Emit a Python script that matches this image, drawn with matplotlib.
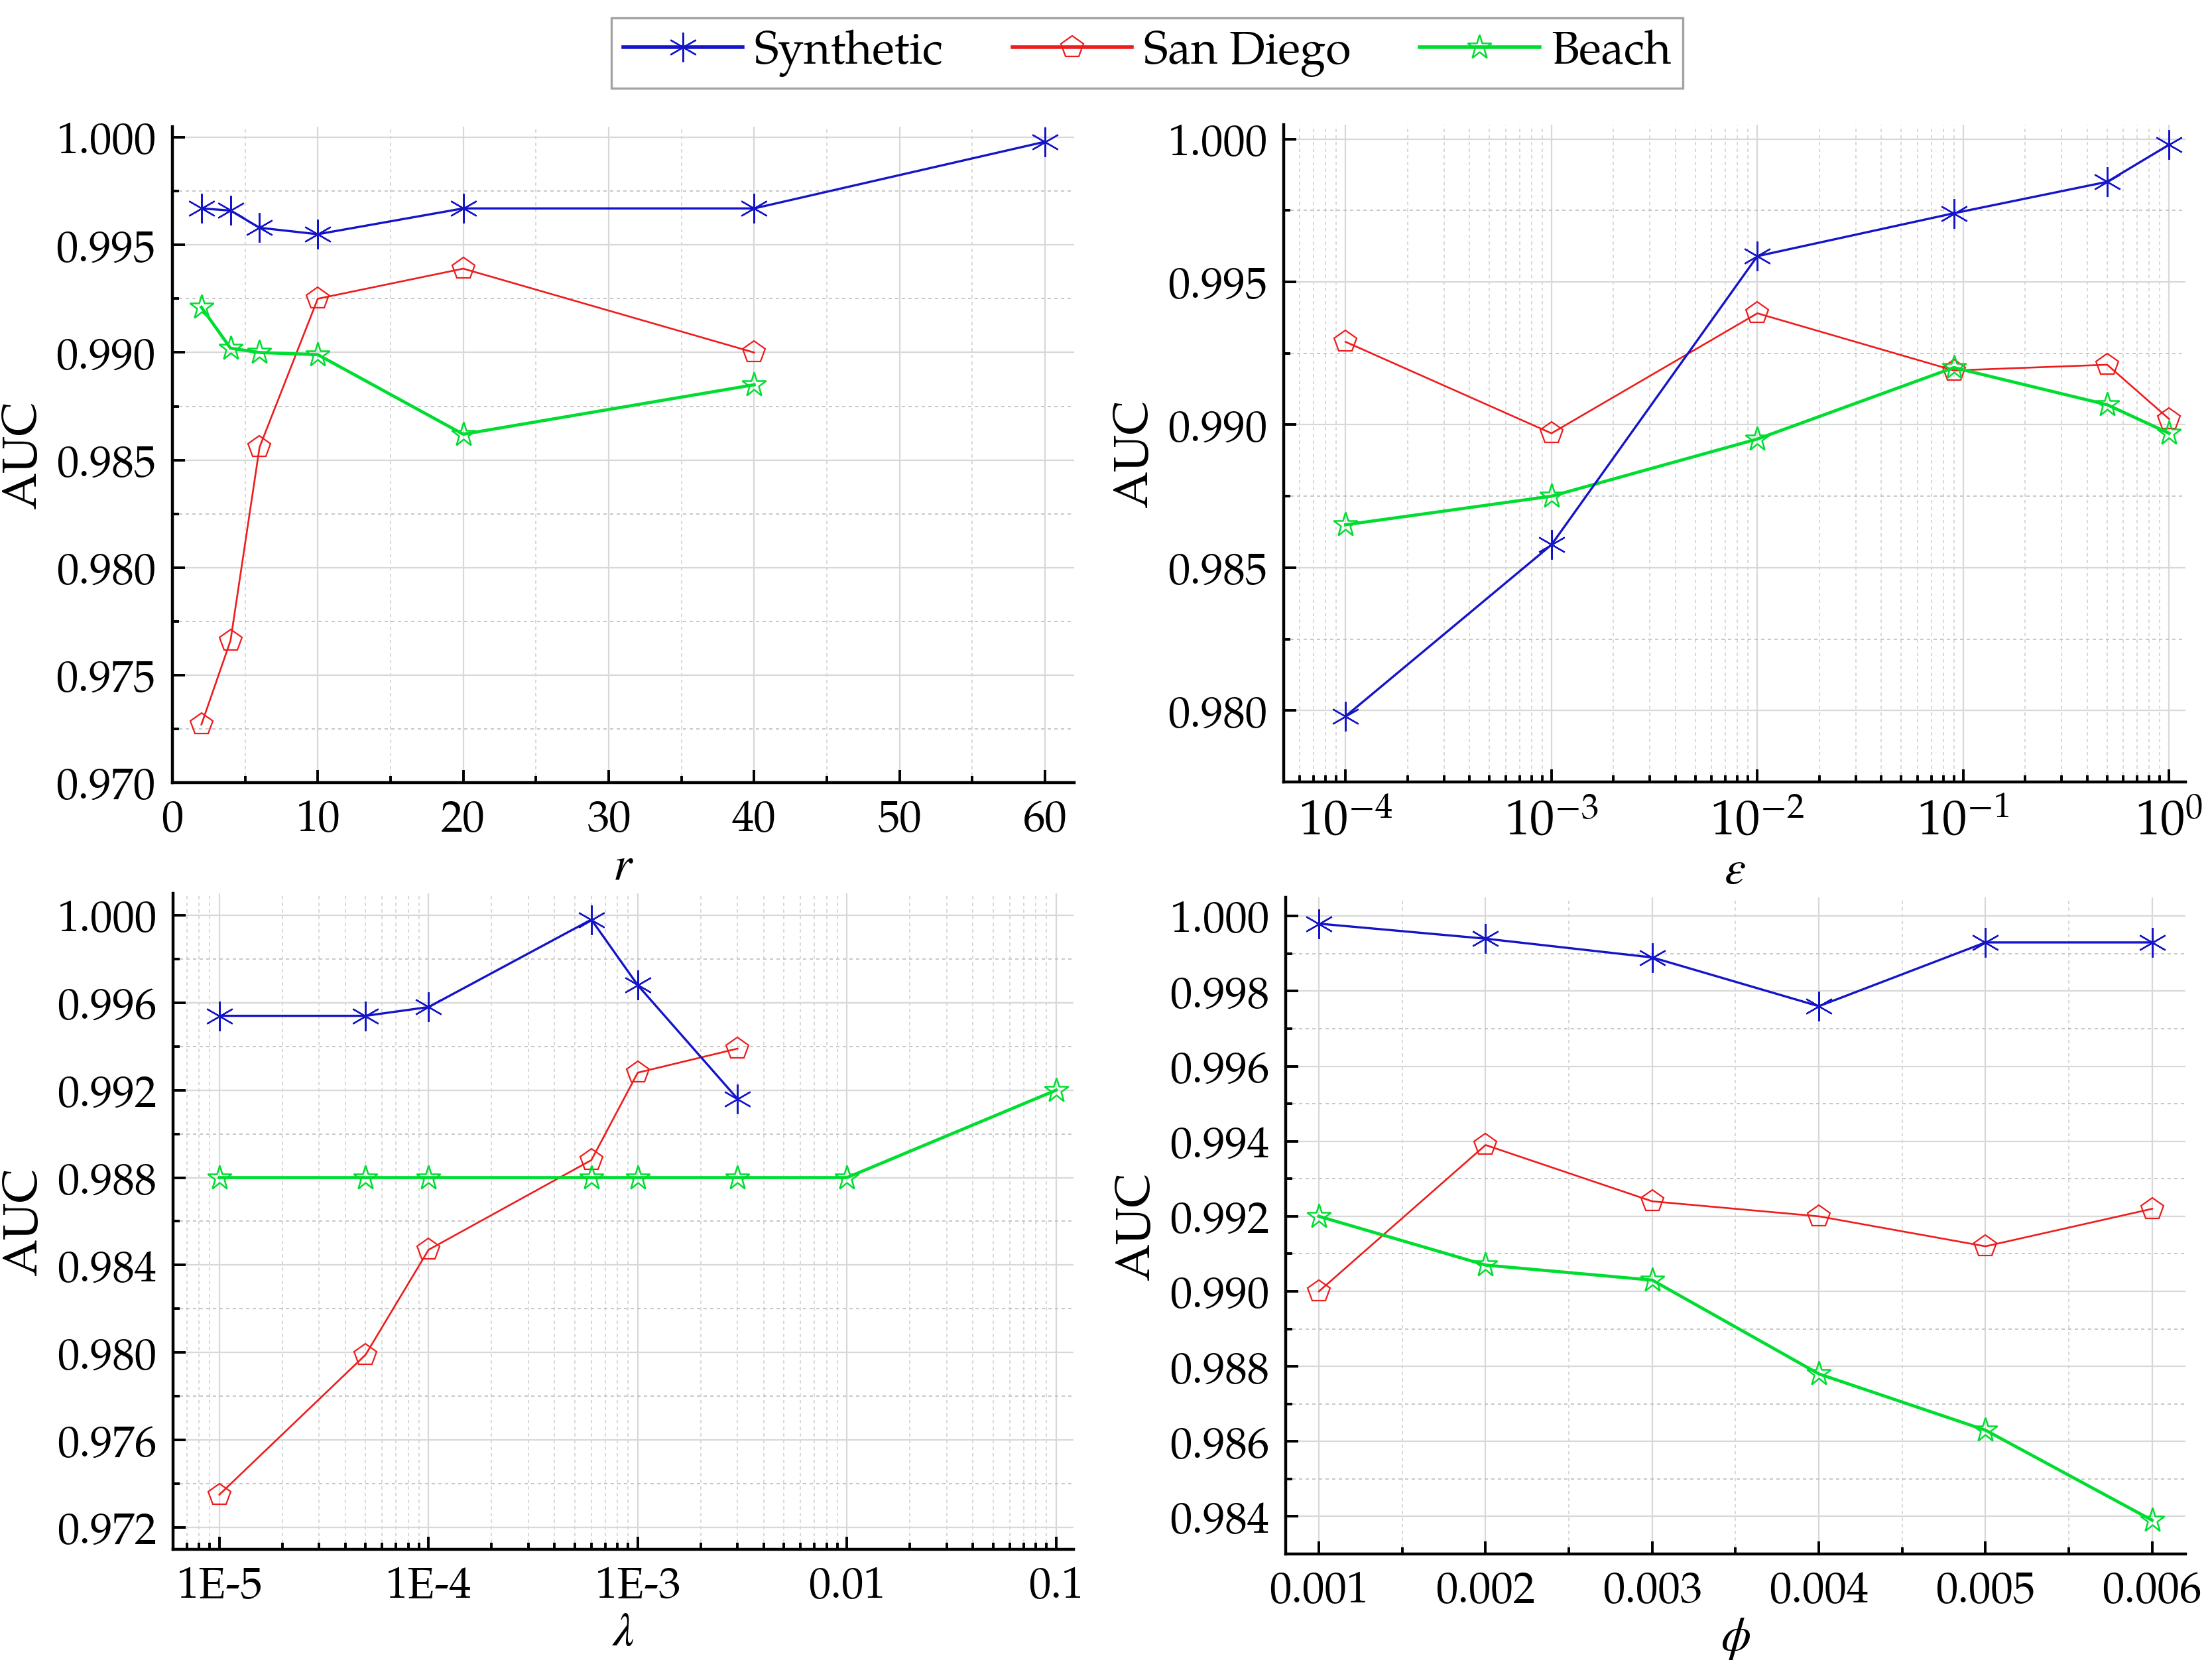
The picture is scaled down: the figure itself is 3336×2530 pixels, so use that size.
import numpy as np
import matplotlib
matplotlib.use("Agg")
import matplotlib.pyplot as plt
from matplotlib.ticker import MultipleLocator, FixedLocator, FixedFormatter, LogLocator, NullFormatter, FormatStrFormatter

# Palatino-like faces first, Liberation Serif as the fallback
plt.rcParams['font.family'] = ['TeX Gyre Pagella', 'P052', 'Palatino Linotype', 'URW Palladio L',
                               'Domitian', 'Liberation Serif', 'DejaVu Serif']
plt.rcParams['mathtext.fontset'] = 'stix'

# ---- data ----
series = ["Synthetic", "San Diego", "Beach"]

r_vals = [2, 4, 6, 10, 20, 40, 60]
r_syn = [0.9967, 0.9966, 0.9958, 0.9955, 0.9967, 0.9967, 0.9998]
r_sd = [0.9727, 0.9766, 0.9856, 0.9925, 0.9939, 0.9900]
r_beach = [0.9921, 0.9902, 0.9900, 0.9899, 0.9862, 0.9885]

eps_vals = [1e-4, 1e-3, 1e-2, 0.09, 0.5, 1.0]
eps_syn = [0.9798, 0.9858, 0.9959, 0.9974, 0.9985, 0.9998]
eps_sd = [0.9929, 0.9897, 0.9939, 0.9919, 0.9921, 0.9902]
eps_beach = [0.9865, 0.9875, 0.9895, 0.9920, 0.9907, 0.9897]

lam_vals = [1e-5, 5e-5, 1e-4, 6e-4, 1e-3, 3e-3, 1e-2, 1e-1]
lam_syn = [0.9954, 0.9954, 0.9958, 0.9998, 0.9968, 0.9916]
lam_sd = [0.9735, 0.9799, 0.9847, 0.9888, 0.9928, 0.9939]
lam_beach = [0.988, 0.988, 0.988, 0.988, 0.988, 0.988, 0.988, 0.992]
lam_ticks = [1e-5, 1e-4, 1e-3, 1e-2, 1e-1]
lam_labels = ["1E-5", "1E-4", "1E-3", "0.01", "0.1"]

phi_vals = [0.001, 0.002, 0.003, 0.004, 0.005, 0.006]
phi_syn = [0.9998, 0.9994, 0.9989, 0.9976, 0.9993, 0.9993]
phi_sd = [0.9900, 0.9939, 0.9924, 0.9920, 0.9912, 0.9922]
phi_beach = [0.9920, 0.9907, 0.9903, 0.9878, 0.9863, 0.9839]

# ---- styles ----
BLUE = '#1414c8'
RED = '#ee1c1c'
GREEN = '#00dd30'
TICK_FS = 24
LABEL_FS = 26


def plot_series(ax, x, syn, sd, beach):
    ax.plot(x[:len(syn)], syn, color=BLUE, lw=1.2, marker=(6, 2, 0), ms=16,
            mew=0.8, label=series[0], zorder=4)
    ax.plot(x[:len(sd)], sd, color=RED, lw=0.95, marker='p', ms=12.5,
            mfc='none', mec=RED, mew=0.8, label=series[1], zorder=3)
    ax.plot(x[:len(beach)], beach, color=GREEN, lw=1.7, marker='*', ms=14,
            mfc='none', mec=GREEN, mew=0.9, label=series[2], zorder=3)


def style_axes(ax, xlabel):
    for s in ['top', 'right']:
        ax.spines[s].set_visible(False)
    for s in ['left', 'bottom']:
        ax.spines[s].set_linewidth(1.6)
    ax.tick_params(which='both', direction='in', labelsize=TICK_FS, width=1.4)
    ax.tick_params(which='major', length=7, pad=9)
    ax.tick_params(which='minor', length=3.5)
    ax.grid(which='major', color='#d8d8d8', lw=0.8, ls='-')
    ax.xaxis.grid(which='minor', color='#d2d2d2', lw=0.6, ls=(0, (3, 3)))
    ax.yaxis.grid(which='minor', color='#bdbdbd', lw=0.6, ls=(0, (3, 3)))
    ax.set_axisbelow(True)
    ax.set_ylabel("AUC", fontsize=LABEL_FS, labelpad=4)
    ax.set_xlabel(xlabel, fontsize=LABEL_FS, labelpad=0)


fig = plt.figure(figsize=(16.68, 12.65), dpi=200)

# top-left: r
ax1 = fig.add_axes([0.0779, 0.5336, 0.4077, 0.3909])
plot_series(ax1, r_vals, r_syn, r_sd, r_beach)
style_axes(ax1, r'$r$')
ax1.set_xlim(0, 62)
ax1.set_ylim(0.970, 1.0005)
ax1.xaxis.set_major_locator(MultipleLocator(10))
ax1.xaxis.set_minor_locator(MultipleLocator(5))
ax1.yaxis.set_major_locator(MultipleLocator(0.005))
ax1.yaxis.set_minor_locator(MultipleLocator(0.0025))
ax1.yaxis.set_major_formatter(FormatStrFormatter('%.3f'))

# top-right: epsilon
ax2 = fig.add_axes([0.5803, 0.5340, 0.4077, 0.3917])
plot_series(ax2, eps_vals, eps_syn, eps_sd, eps_beach)
ax2.set_xscale('log')
style_axes(ax2, r'$\varepsilon$')
ax2.set_xlim(5e-5, 1.2)
ax2.set_ylim(0.9775, 1.0005)
ax2.xaxis.set_major_locator(LogLocator(base=10, numticks=10))
ax2.xaxis.set_minor_locator(LogLocator(base=10, subs=np.arange(2, 10), numticks=20))
ax2.xaxis.set_minor_formatter(NullFormatter())
ax2.tick_params(axis='x', which='major', labelsize=27, pad=9)
ax2.yaxis.set_major_locator(MultipleLocator(0.005))
ax2.yaxis.set_minor_locator(MultipleLocator(0.0025))
ax2.yaxis.set_major_formatter(FormatStrFormatter('%.3f'))

# bottom-left: lambda
ax3 = fig.add_axes([0.0782, 0.0767, 0.4071, 0.3909])
plot_series(ax3, lam_vals, lam_syn, lam_sd, lam_beach)
ax3.set_xscale('log')
style_axes(ax3, r'$\lambda$')
ax3.set_xlim(6e-6, 0.121)
ax3.set_ylim(0.971, 1.001)
ax3.xaxis.set_major_locator(FixedLocator(lam_ticks))
ax3.xaxis.set_major_formatter(FixedFormatter(lam_labels))
ax3.xaxis.set_minor_locator(LogLocator(base=10, subs=np.arange(2, 10), numticks=20))
ax3.xaxis.set_minor_formatter(NullFormatter())
ax3.yaxis.set_major_locator(MultipleLocator(0.004))
ax3.yaxis.set_minor_locator(MultipleLocator(0.002))
ax3.yaxis.set_major_formatter(FormatStrFormatter('%.3f'))

# bottom-right: phi
ax4 = fig.add_axes([0.5812, 0.0739, 0.4068, 0.3913])
plot_series(ax4, phi_vals, phi_syn, phi_sd, phi_beach)
style_axes(ax4, r'$\phi$')
ax4.set_xlim(0.0008, 0.0062)
ax4.set_ylim(0.983, 1.0005)
ax4.xaxis.set_major_locator(MultipleLocator(0.001))
ax4.xaxis.set_minor_locator(MultipleLocator(0.0005))
ax4.xaxis.set_major_formatter(FormatStrFormatter('%.3f'))
ax4.yaxis.set_major_locator(MultipleLocator(0.002))
ax4.yaxis.set_minor_locator(MultipleLocator(0.001))
ax4.yaxis.set_major_formatter(FormatStrFormatter('%.3f'))

handles, labels = ax1.get_legend_handles_labels()
leg = fig.legend(handles, labels, loc='center', bbox_to_anchor=(0.5186, 0.9684),
                 ncol=3, fontsize=25, frameon=True, fancybox=False,
                 handlelength=2.6, handletextpad=0.25, columnspacing=1.5,
                 borderpad=0.25, edgecolor='#8c8c8c')
leg.get_frame().set_linewidth(1.2)
for h in leg.legend_handles:
    h.set_linewidth(2.0)

fig.savefig("out.png", dpi=200)
